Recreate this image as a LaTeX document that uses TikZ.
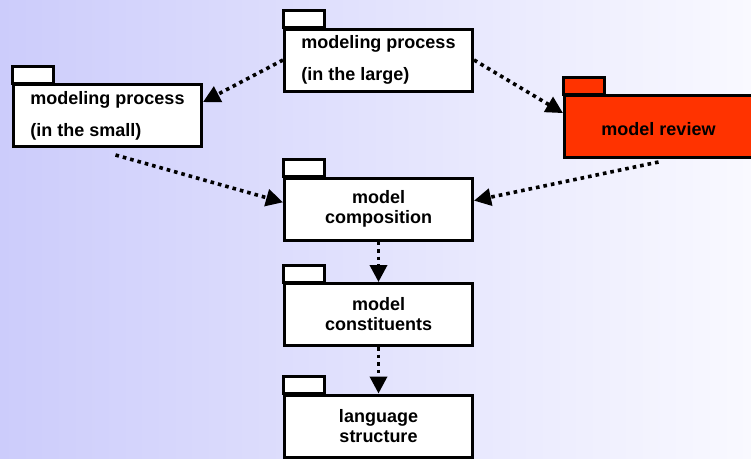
\documentclass[tikz,border=0pt]{standalone}
\usepackage{fontspec}
\setmainfont{Liberation Sans}
\usetikzlibrary{arrows.meta}
\definecolor{reviewred}{HTML}{FF3300}
\definecolor{bgleft}{HTML}{CCCCFB}
\definecolor{bgright}{HTML}{F9F9FF}
\begin{document}
\begin{tikzpicture}[x=1pt, y=-1pt, font=\fontsize{18}{20}\selectfont\bfseries,
	pkg/.style={draw, line width=3pt, fill=white, minimum width=188pt, minimum height=62pt, inner sep=0pt},
	tab/.style={draw, line width=3pt},
	dep/.style={line width=3.6pt, dash pattern=on 3.6pt off 4pt, -{Triangle[length=17pt,width=17pt]}}]
	\useasboundingbox (0,0) rectangle (751,458);
	\shade[left color=bgleft, right color=bgright] (0,0) rectangle (751,458);
	% packages
	\node[pkg, align=left] (large) at (378.5,60) {modeling process\\[12pt](in the large)};
	\node[pkg, align=left] (small) at (107.5,115.5) {modeling process\\[12pt](in the small)};
	\node[pkg, fill=reviewred, text height=19pt] (review) at (658.5,126.5) {model review};
	\node[pkg, align=center] (comp) at (378.5,209) {model\\composition};
	\node[pkg, align=center] (const) at (378.5,314.5) {model\\constituents};
	\node[pkg, align=center] (lang) at (378.5,426) {language\\structure};
	\foreach \n/\c in {large/white, small/white, review/reviewred, comp/white, const/white, lang/white}
		\draw[tab, fill=\c] (\n.north west) rectangle ++(41,-17);
	% dependencies
	\coordinate (smallout) at ([xshift=8pt,yshift=-7pt]small.south);
	\coordinate (reviewout) at ([yshift=-3pt]review.south);
	\foreach \a/\b in {large.west/small.8, large.east/review.172, smallout/comp.176,
		reviewout/comp.5, comp.south/const.north, const.south/lang.north}
		\draw[dep] (\a) -- (\b);
\end{tikzpicture}
\end{document}
